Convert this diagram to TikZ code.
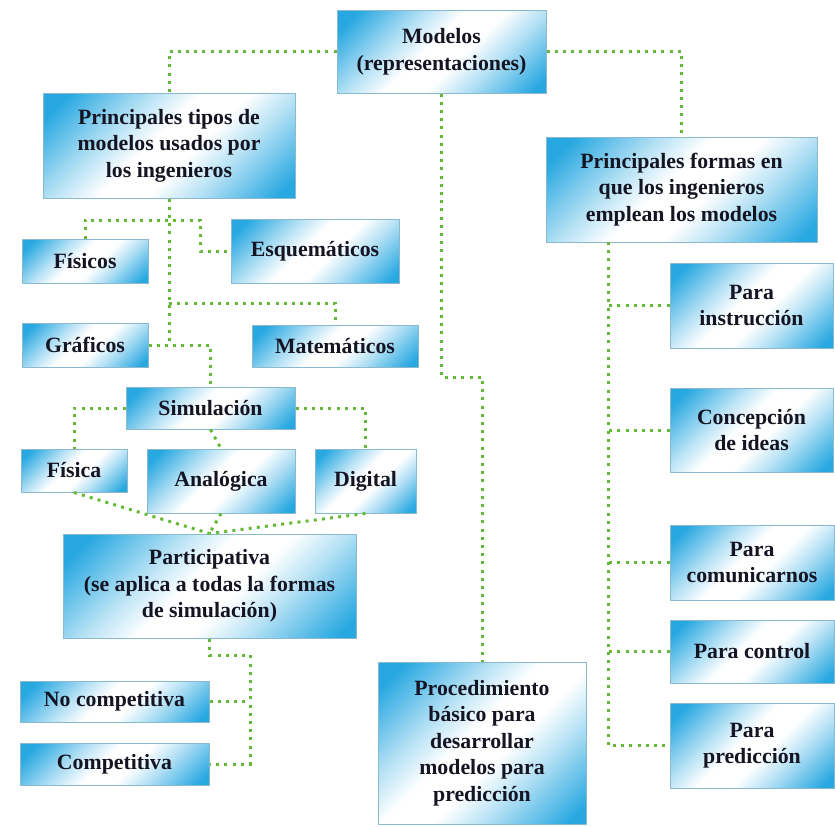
\documentclass[tikz,border=0pt]{standalone}
\usepackage{fontspec}
\setmainfont{Liberation Serif}
\usepackage{tikz}

\definecolor{celeste}{RGB}{40,168,225}
\definecolor{borde}{RGB}{140,185,205}
\definecolor{verde}{RGB}{100,185,55}
\definecolor{tinta}{RGB}{20,20,35}
\pgfdeclarehorizontalshading{fondocaja}{100bp}{color(0bp)=(celeste); color(20bp)=(celeste); color(36bp)=(celeste!35!white); color(46bp)=(white); color(56bp)=(white); color(66bp)=(celeste!35!white); color(82bp)=(celeste); color(100bp)=(celeste)}

\begin{document}
\begin{tikzpicture}[x=0.5pt,y=-0.5pt,
	caja/.style={draw=borde, line width=0.5pt, shading=fondocaja, shading angle=-45, inner sep=0pt, align=center, text=tinta, font=\fontsize{10.9}{13.3}\selectfont\bfseries},
	enlace/.style={draw=verde, line width=1.5pt, dash pattern=on 1.5pt off 2.6pt}]
	%\draw[help lines] (0,0) grid[step=50] (835,826);
	\useasboundingbox (0,0) rectangle (835,826);
	\node[caja, minimum width=104.5pt, minimum height=41.5pt] (modelos) at (441.5,51.5) {Modelos\\(representaciones)};
	\node[caja, minimum width=126pt, minimum height=52.5pt] (tipos) at (169,145.5) {Principales tipos de\\modelos usados por\\los ingenieros};
	\node[caja, minimum width=63pt, minimum height=22pt] (fisicos) at (85,261) {Físicos};
	\node[caja, minimum width=84pt, minimum height=32pt] (esquema) at (315,251) {Esquemáticos};
	\node[caja, minimum width=63pt, minimum height=22pt] (graficos) at (85,345) {Gráficos};
	\node[caja, minimum width=83pt, minimum height=21pt] (matema) at (335,346) {Matemáticos};
	\node[caja, minimum width=84.5pt, minimum height=21pt] (simul) at (210.5,408) {Simulación};
	\node[caja, minimum width=53pt, minimum height=21.5pt] (fisica) at (74,470.5) {Física};
	\node[caja, minimum width=74pt, minimum height=32pt] (analog) at (221,481) {Analógica};
	\node[caja, minimum width=50.5pt, minimum height=32pt] (digital) at (365.5,481) {Digital};
	\node[caja, minimum width=146.5pt, minimum height=52pt] (partic) at (209.5,586) {Participativa\\(se aplica a todas la formas\\de simulación)};
	\node[caja, minimum width=94.5pt, minimum height=20.5pt] (nocomp) at (114.5,701.5) {No competitiva};
	\node[caja, minimum width=94.5pt, minimum height=21pt] (comp) at (114.5,764) {Competitiva};
	\node[caja, minimum width=104pt, minimum height=81pt] (proced) at (482,743) {Procedimiento\\básico para\\desarrollar\\modelos para\\predicción};
	\node[caja, minimum width=135.5pt, minimum height=52.5pt] (formas) at (681.5,189.5) {Principales formas en\\que los ingenieros\\emplean los modelos};
	\node[caja, minimum width=81.5pt, minimum height=42.5pt] (instr) at (751.5,305.5) {Para\\instrucción};
	\node[caja, minimum width=81.5pt, minimum height=42pt] (concep) at (751.5,430) {Concepción\\de ideas};
	\node[caja, minimum width=82pt, minimum height=37.5pt] (comun) at (752,562.5) {Para\\comunicarnos};
	\node[caja, minimum width=82pt, minimum height=31.5pt] (control) at (752,651.5) {Para control};
	\node[caja, minimum width=82pt, minimum height=42.5pt] (predic) at (752,745.5) {Para\\predicción};

	\coordinate (quiebre) at (441.5,377);
	\coordinate (tronco) at (169,343);
	\coordinate (rama1) at (200,220);
	\coordinate (rama2) at (169,303);
	\coordinate (codo) at (250,655);
	\coordinate (eje) at (608,242);

	\draw[enlace] (modelos.west) -| (tipos.north);
	\draw[enlace] (modelos.east) -| (formas.north);
	\draw[enlace] (modelos.south) -- (quiebre) -| (proced.north);
	\draw[enlace] (tipos.south) -- (tronco);
	\draw[enlace] (fisicos.north) |- (rama1) |- (esquema.west);
	\draw[enlace] (rama2) -| (matema.north);
	\draw[enlace] (graficos.east) -| (simul.north);
	\draw[enlace] (simul.west) -| (fisica.north);
	\draw[enlace] (simul.east) -| (digital.north);
	\draw[enlace] (simul.south) -- (analog.north);
	\draw[enlace] (fisica.south) -- (partic.north);
	\draw[enlace] (analog.south) -- (partic.north);
	\draw[enlace] (digital.south) -- (partic.north);
	\draw[enlace] (partic.south) |- (codo) |- (comp.east);
	\draw[enlace] (nocomp.east) -- (nocomp.east -| codo);
	\draw[enlace] (eje) |- (predic.west);
	\draw[enlace] (instr.west) -- (instr.west -| eje);
	\draw[enlace] (concep.west) -- (concep.west -| eje);
	\draw[enlace] (comun.west) -- (comun.west -| eje);
	\draw[enlace] (control.west) -- (control.west -| eje);
\end{tikzpicture}
\end{document}
